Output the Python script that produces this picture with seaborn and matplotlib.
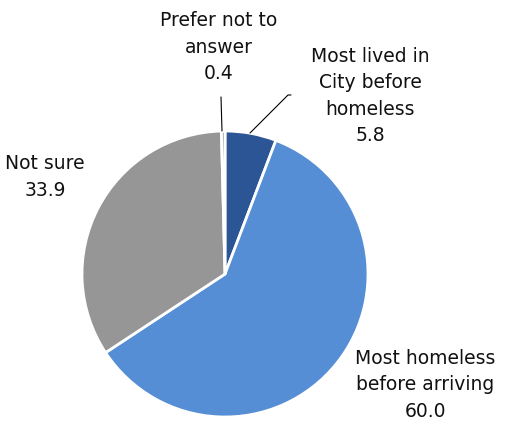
import matplotlib
matplotlib.use("Agg")
import matplotlib.pyplot as plt
import seaborn as sns

categories = ["Most lived in\nCity before\nhomeless", "Most homeless\nbefore arriving", "Not sure", "Prefer not to\nanswer"]
values = [5.8, 60.0, 33.9, 0.4]
colors = ["#2B5594", "#558ED5", "#969696", "#8C8C8C"]

sns.set_theme(style="white")
plt.rcParams["font.family"] = ["DejaVu Sans"]

W, H = 507, 425
fig = plt.figure(figsize=(W / 100, H / 100), dpi=100)
ax = fig.add_axes([0, 0, 1, 1])
ax.set_xlim(0, W)
ax.set_ylim(0, H)
ax.set_aspect("equal")
ax.axis("off")

cx, cy, r = 225, H - 274, 143
wedges, _ = ax.pie(values, colors=colors, startangle=90, counterclock=False,
                   center=(cx, cy), radius=r,
                   wedgeprops=dict(edgecolor="white", linewidth=2))
ax.set_xlim(0, W)
ax.set_ylim(0, H)

# label positions (centre of text block) in pixel space from top-left
label_pos = [(370, 96), (425, 385), (45, 177), (219, 47)]
for cat, val, (px, py) in zip(categories, values, label_pos):
    ax.text(px, H - py, f"{cat}\n{val:.1f}", ha="center", va="center",
            fontsize=13.5, linespacing=1.5, color="#111111")

# leader lines
ax.plot([250, 288, 291], [H - 133, H - 95, H - 95], color="black", lw=0.8)
ax.plot([222, 221], [H - 131, H - 97], color="black", lw=0.8)

fig.savefig("out.png", dpi=100)
